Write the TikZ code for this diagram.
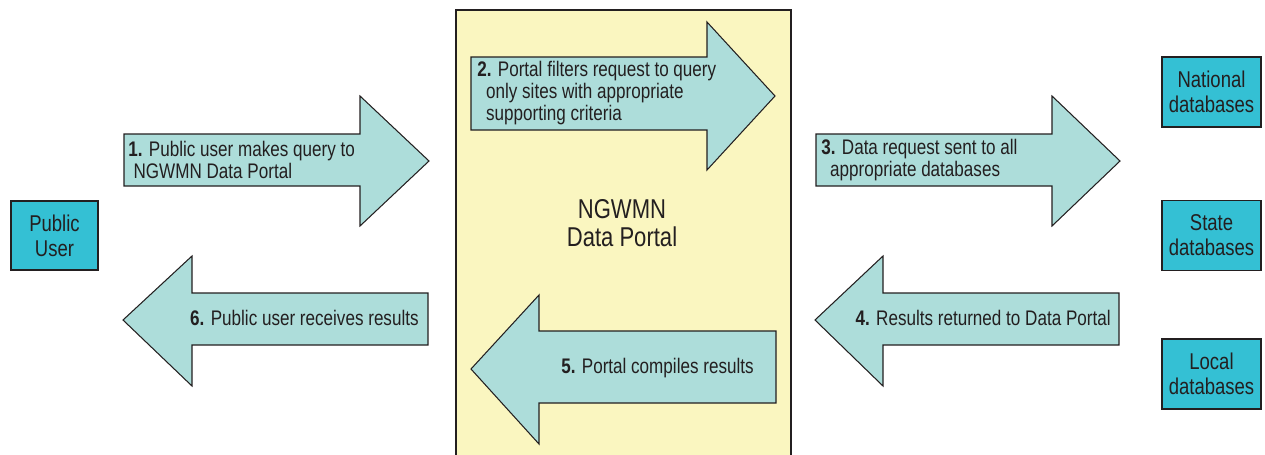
\documentclass[tikz,border=0pt]{standalone}
\usepackage{fontspec}
\setmainfont{Liberation Sans}[FakeStretch=0.81]
\usepackage{tikz}

\definecolor{arrowfill}{HTML}{ADDDDA}
\definecolor{boxcyan}{HTML}{34C0D4}
\definecolor{portalfill}{HTML}{FAF6C0}
\definecolor{inkdark}{HTML}{231F20}

\begin{document}
\begin{tikzpicture}[x=0.02cm, y=-0.02cm]
    \tikzstyle{userbox} = [rectangle, draw=inkdark, line width=0.8pt, fill=boxcyan, align=center, inner sep=0pt, text=inkdark, font=\fontsize{13}{14.2}\selectfont]
    \tikzstyle{flowarrow} = [draw=inkdark, line width=0.6pt, fill=arrowfill, line join=miter]
    \tikzstyle{steptext} = [inner sep=0pt, text=inkdark, font=\fontsize{12}{12.5}\selectfont]

    \useasboundingbox (0,0) rectangle (1265,454);

    % Portal
    \draw[draw=inkdark, line width=0.8pt, fill=portalfill] (456,10) rectangle (791,480);
    \node[inner sep=0pt, align=center, text=inkdark, font=\fontsize{15.5}{16}\selectfont] (portal) at (622,223) {NGWMN\\Data Portal};

    % User and databases
    \node[userbox, minimum width=1.74cm, minimum height=1.38cm] (user) at (54.5,235.5) {Public\\User};
    \node[userbox, minimum width=1.98cm, minimum height=1.4cm] (national) at (1211.5,92) {National\\databases};
    \node[userbox, minimum width=1.98cm, minimum height=1.4cm] (state) at (1211.5,235.5) {State\\databases};
    \node[userbox, minimum width=1.98cm, minimum height=1.4cm] (local) at (1211.5,374) {Local\\databases};

    % Arrows to the right
    \draw[flowarrow] (124,134) -- (360,134) -- (360,96) -- (429,161) -- (360,226) -- (360,186) -- (124,186) -- cycle;
    \draw[flowarrow] (471,57) -- (707,57) -- (707,22) -- (775,96) -- (707,170) -- (707,130) -- (471,130) -- cycle;
    \draw[flowarrow] (816,134) -- (1052,134) -- (1052,96) -- (1120,161) -- (1052,226) -- (1052,186) -- (816,186) -- cycle;

    % Arrows to the left
    \draw[flowarrow] (1119,293) -- (883,293) -- (883,256) -- (815,320) -- (883,386) -- (883,345) -- (1119,345) -- cycle;
    \draw[flowarrow] (776,331) -- (539,331) -- (539,295) -- (471,369) -- (539,444) -- (539,403) -- (776,403) -- cycle;
    \draw[flowarrow] (428,293) -- (192,293) -- (192,256) -- (123,320) -- (192,386) -- (192,345) -- (428,345) -- cycle;

    % Steps
    \node[steptext, anchor=west, align=left] (s1) at (128,160) {\textbf{1.} Public user makes query to\\\hspace*{3pt}NGWMN Data Portal};
    \node[steptext, anchor=west, align=left] (s2) at (477,93) {\textbf{2.} Portal filters request to query\\\hspace*{5pt}only sites with appropriate\\\hspace*{5pt}supporting criteria};
    \node[steptext, anchor=west, align=left] (s3) at (821,160) {\textbf{3.} Data request sent to all\\\hspace*{5pt}appropriate databases};
    \node[steptext, anchor=east] (s4) at (1111,318) {\textbf{4.} Results returned to Data Portal};
    \node[steptext, anchor=east] (s5) at (754,368) {\textbf{5.} Portal compiles results};
    \node[steptext, anchor=east] (s6) at (419,318) {\textbf{6.} Public user receives results};

\end{tikzpicture}
\end{document}
